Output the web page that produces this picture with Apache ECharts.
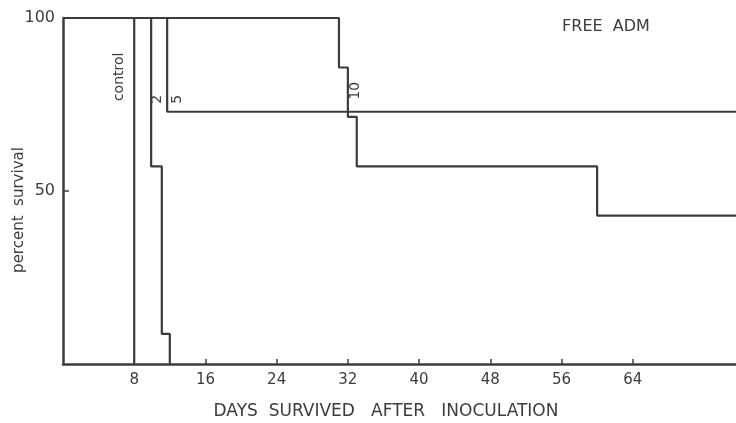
<!DOCTYPE html>
<html><head><meta charset="utf-8">
<script src="https://cdn.jsdelivr.net/npm/echarts@6/dist/echarts.min.js"></script>
<style>html,body{margin:0;padding:0;background:#fff}#c{width:736px;height:423px}</style>
</head><body><div id="c"></div>
<script>
// Tick labels
const xTicks = [8, 16, 24, 32, 40, 48, 56, 64];
const yTickLabels = [50, 100];
const yTicks = [50];

// Survival curves (day of change, percent surviving after the change)
const controlDays = [0, 8];
const controlPct = [100, 0];
const dose2Days = [0, 9.9, 11.1, 12];
const dose2Pct = [100, 57.1, 8.7, 0];
const dose5Days = [0, 11.7, 75.6];
const dose5Pct = [100, 72.9, 72.9];
const dose10Days = [0, 31, 32, 33, 60, 75.6];
const dose10Pct = [100, 85.7, 71.4, 57.1, 42.9, 42.9];

const seriesNames = ['control', '2', '5', '10'];
const seriesDays = [controlDays, dose2Days, dose5Days, dose10Days];
const seriesPct = [controlPct, dose2Pct, dose5Pct, dose10Pct];

// Curve labels, anchored in data coordinates
const labelTexts = ['control', '2', '5', '10'];
const labelDays = [6.3, 10.6, 12.9, 32.8];
const labelPct = [83, 76.5, 76.5, 79];

const ink = '#3c3c3c';
const font = '"DejaVu Sans", sans-serif';

const chart = echarts.init(document.getElementById('c'), null, {renderer: 'canvas'});
const option = {
  animation: false,
  backgroundColor: '#fff',
  grid: {left: 63, right: 0, top: 18, bottom: 59},
  xAxis: {
    type: 'value', min: 0, max: 75.6,
    axisLine: {show: true, lineStyle: {color: ink, width: 2.5}},
    axisTick: {show: true, inside: true, length: 5, customValues: xTicks, lineStyle: {color: ink, width: 1.5}},
    axisLabel: {customValues: xTicks, color: ink, fontSize: 15, fontFamily: font, margin: 9},
    splitLine: {show: false}
  },
  yAxis: {
    type: 'value', min: 0, max: 100,
    axisLine: {show: true, lineStyle: {color: ink, width: 2.5}},
    axisTick: {show: true, inside: true, length: 6, customValues: yTicks, lineStyle: {color: ink, width: 1.5}},
    axisLabel: {customValues: yTickLabels, color: ink, fontSize: 16, fontFamily: font, margin: 8},
    splitLine: {show: false}
  },
  series: seriesNames.map((n, i) => ({
    name: n, type: 'line', step: 'end', clip: false,
    showSymbol: false, symbol: 'none',
    lineStyle: {color: ink, width: 2.2},
    data: seriesDays[i].map((d, j) => [d, seriesPct[i][j]])
  }))
};
chart.setOption(option);

const graphics = [
  {type: 'text', x: 606, y: 27, style: {text: 'FREE  ADM', font: '16px ' + font, fill: ink, align: 'center', verticalAlign: 'middle'}},
  {type: 'text', x: 386, y: 412, style: {text: 'DAYS  SURVIVED   AFTER   INOCULATION', font: '17px ' + font, fill: ink, align: 'center', verticalAlign: 'middle'}},
  {type: 'text', x: 19, y: 210, rotation: Math.PI / 2, style: {text: 'percent  survival', font: '15px ' + font, fill: ink, align: 'center', verticalAlign: 'middle'}}
];
labelTexts.forEach((t, i) => {
  const p = chart.convertToPixel({xAxisIndex: 0, yAxisIndex: 0}, [labelDays[i], labelPct[i]]);
  graphics.push({type: 'text', x: p[0], y: p[1], rotation: Math.PI / 2,
    style: {text: t, font: '14px ' + font, fill: ink, align: 'center', verticalAlign: 'middle'}});
});
chart.setOption({graphic: graphics});
</script>
</body></html>
